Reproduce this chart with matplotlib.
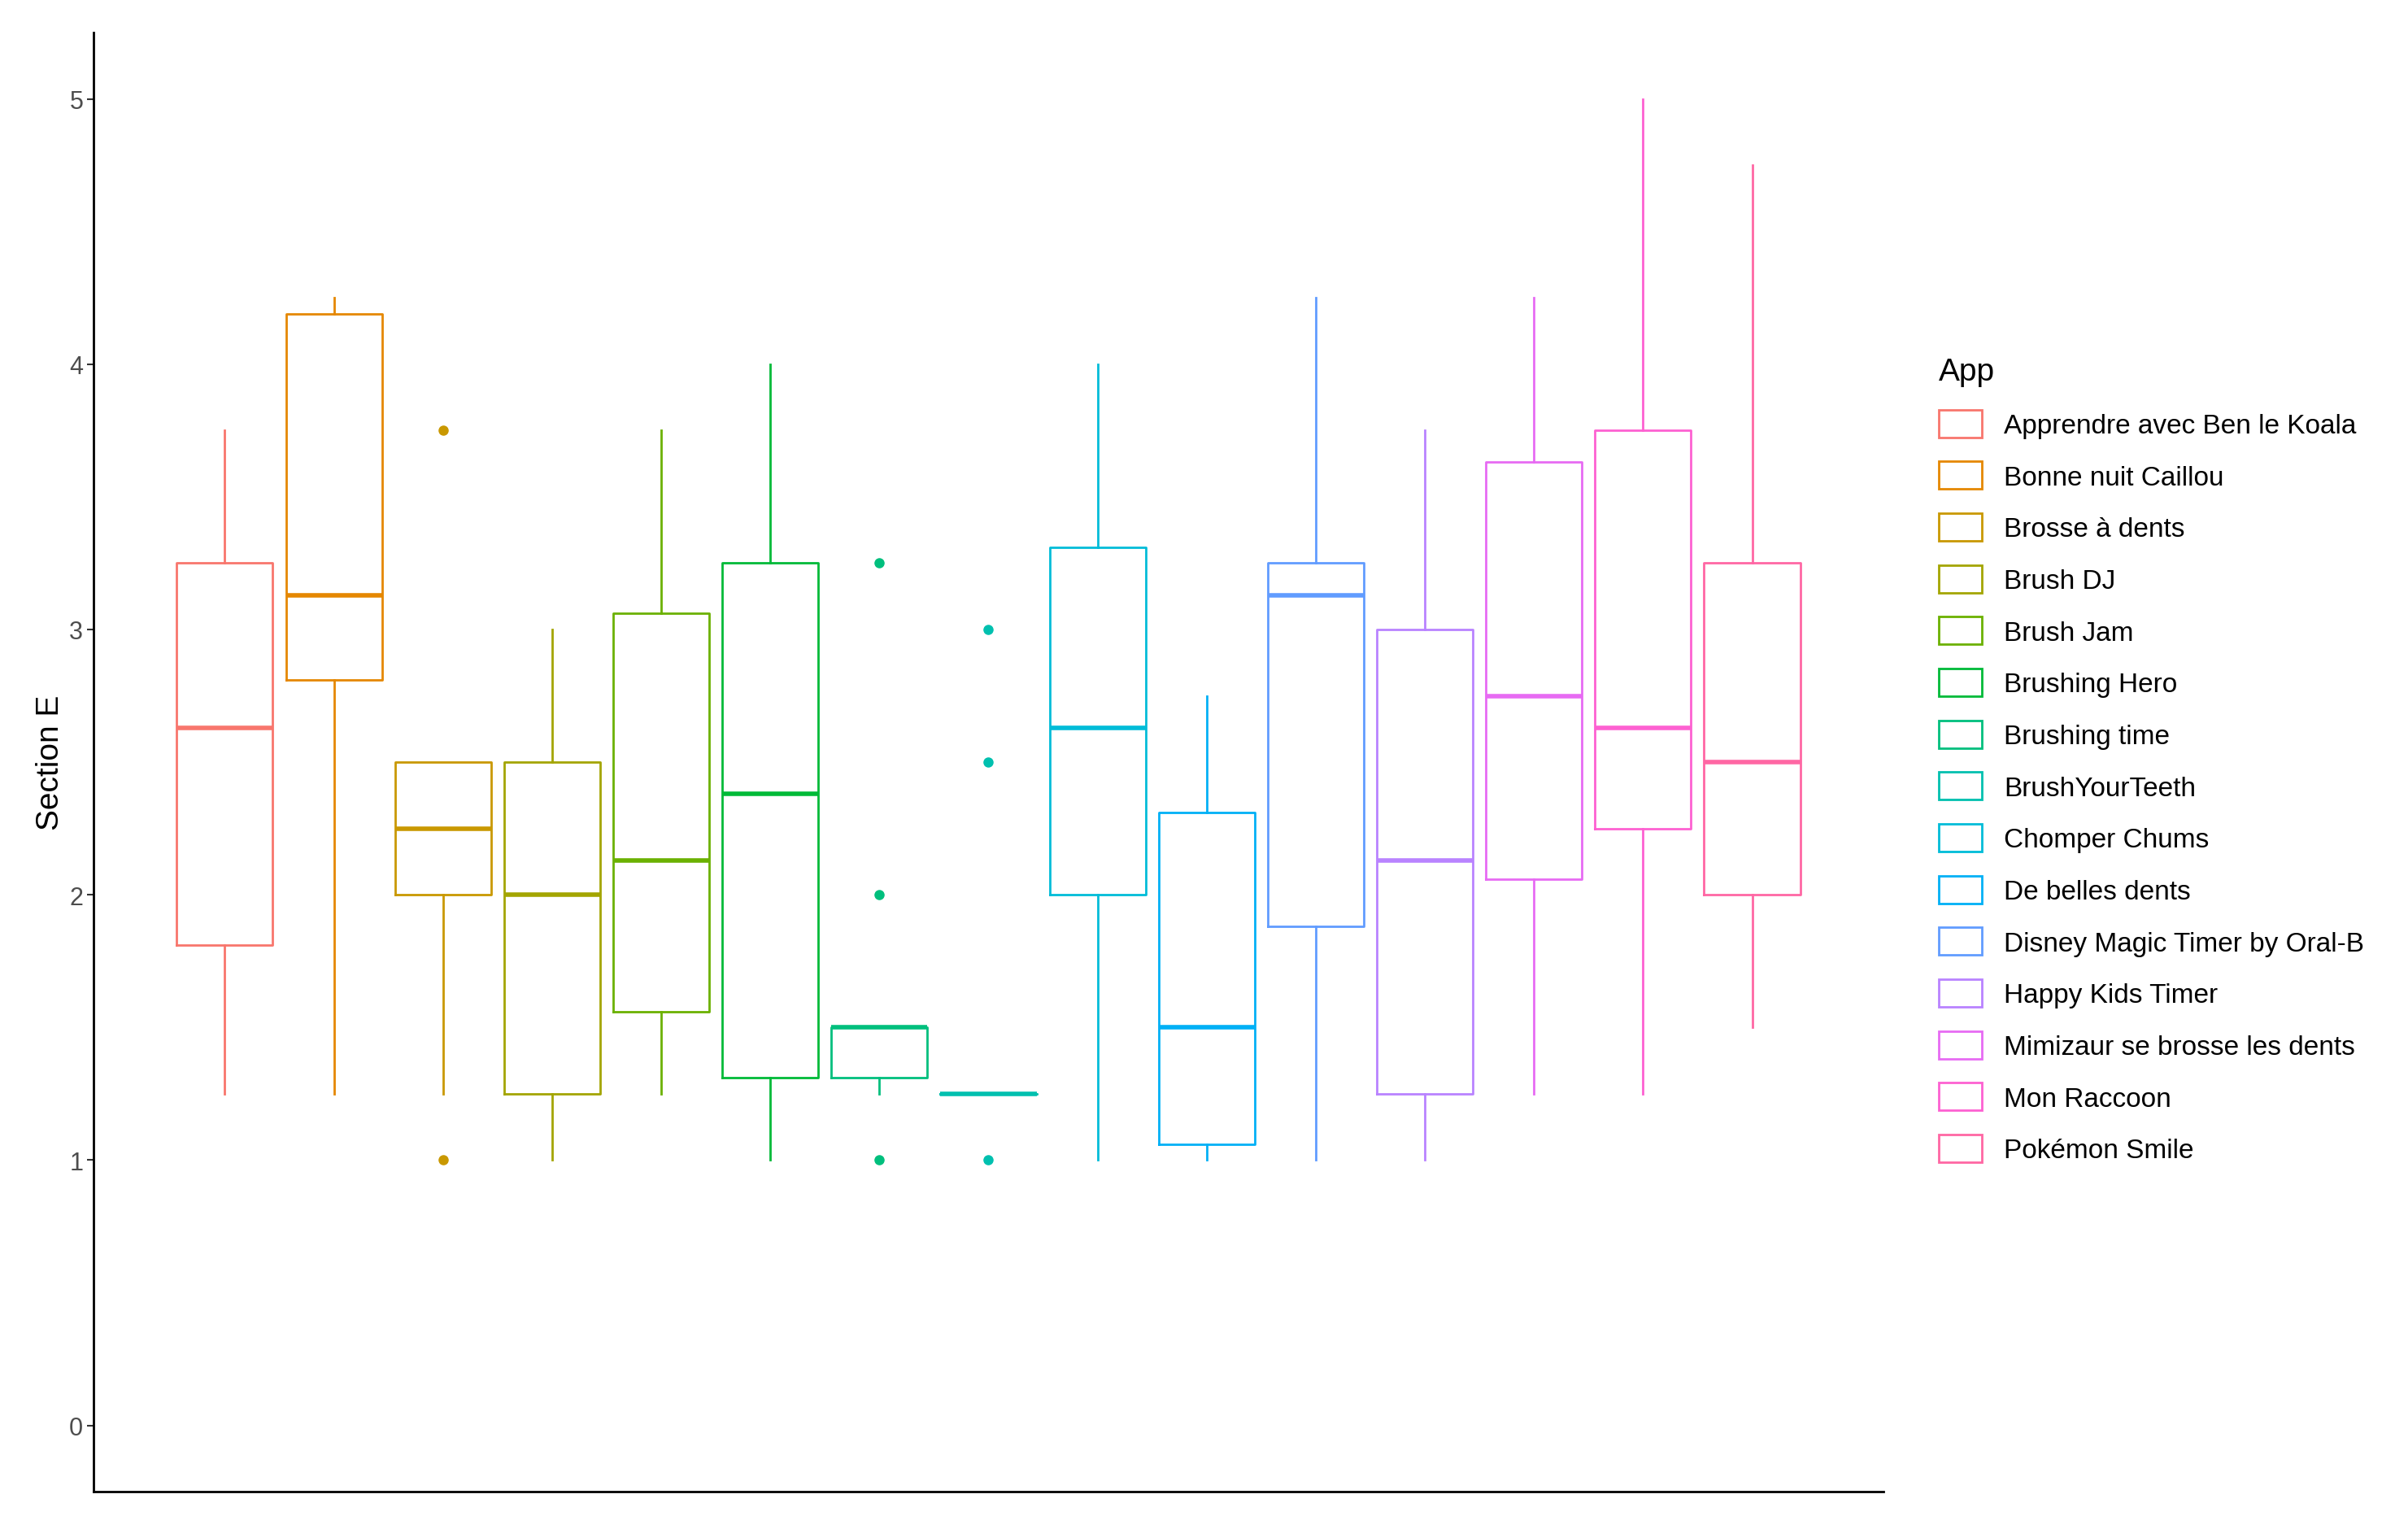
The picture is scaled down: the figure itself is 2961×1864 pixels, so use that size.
import matplotlib.pyplot as plt
from matplotlib.patches import Patch

plt.rcParams['font.family'] = ['Liberation Sans', 'DejaVu Sans']

apps = ["Apprendre avec Ben le Koala", "Bonne nuit Caillou", "Brosse à dents", "Brush DJ",
        "Brush Jam", "Brushing Hero", "Brushing time", "BrushYourTeeth", "Chomper Chums",
        "De belles dents", "Disney Magic Timer by Oral-B", "Happy Kids Timer",
        "Mimizaur se brosse les dents", "Mon Raccoon", "Pokémon Smile"]
colors = ["#F8766D", "#E58700", "#C99800", "#A3A500", "#6BB100", "#00BA38", "#00BF7D",
          "#00C0AF", "#00BCD8", "#00B0F6", "#619CFF", "#B983FF", "#E76BF3", "#FD61D1", "#FF67A4"]
whislo = [1.25, 1.25, 1.25, 1.0, 1.25, 1.0, 1.25, 1.25, 1.0, 1.0, 1.0, 1.0, 1.25, 1.25, 1.5]
q1 = [1.81, 2.81, 2.0, 1.25, 1.56, 1.31, 1.31, 1.25, 2.0, 1.06, 1.88, 1.25, 2.06, 2.25, 2.0]
med = [2.63, 3.13, 2.25, 2.0, 2.13, 2.38, 1.5, 1.25, 2.63, 1.5, 3.13, 2.13, 2.75, 2.63, 2.5]
q3 = [3.25, 4.19, 2.5, 2.5, 3.06, 3.25, 1.5, 1.25, 3.31, 2.31, 3.25, 3.0, 3.63, 3.75, 3.25]
whishi = [3.75, 4.25, 2.5, 3.0, 3.75, 4.0, 1.5, 1.25, 4.0, 2.75, 4.25, 3.75, 4.25, 5.0, 4.75]
fliers = [[], [], [3.75, 1.0], [], [], [], [3.25, 2.0, 1.0], [3.0, 2.5, 1.0],
          [], [], [], [], [], [], []]

fig = plt.figure(figsize=(29.61, 18.65), dpi=100)
ax = fig.add_axes([0.039, 0.016, 0.743, 0.962])

for i in range(len(apps)):
    st = [dict(whislo=whislo[i], q1=q1[i], med=med[i], q3=q3[i], whishi=whishi[i],
               fliers=fliers[i])]
    c = colors[i]
    ax.bxp(st, positions=[i + 1], widths=0.88, showcaps=False,
           boxprops=dict(color=c, linewidth=2),
           whiskerprops=dict(color=c, linewidth=2),
           medianprops=dict(color=c, linewidth=4),
           flierprops=dict(marker='o', markerfacecolor=c, markeredgecolor=c, markersize=8))

ax.set_xlim(-0.2, 16.2)
ax.set_ylim(-0.25, 5.25)
ax.set_xticks([])
ax.set_yticks([0, 1, 2, 3, 4, 5])
ax.tick_params(axis='y', labelsize=22, labelcolor='#4d4d4d', color='#333333', length=6, width=1.5)
ax.set_ylabel("Section E", fontsize=28)
for s in ['top', 'right']:
    ax.spines[s].set_visible(False)
for s in ['left', 'bottom']:
    ax.spines[s].set_linewidth(2)

handles = [Patch(facecolor='white', edgecolor=c, linewidth=2) for c in colors]
leg = fig.legend(handles, apps, title="App", loc='upper left', bbox_to_anchor=(0.795, 0.78),
                 frameon=False, fontsize=24, title_fontsize=28, handlelength=1.6,
                 handleheight=1.2, labelspacing=0.85)
leg._legend_box.align = 'left'

fig.savefig("out.png")
